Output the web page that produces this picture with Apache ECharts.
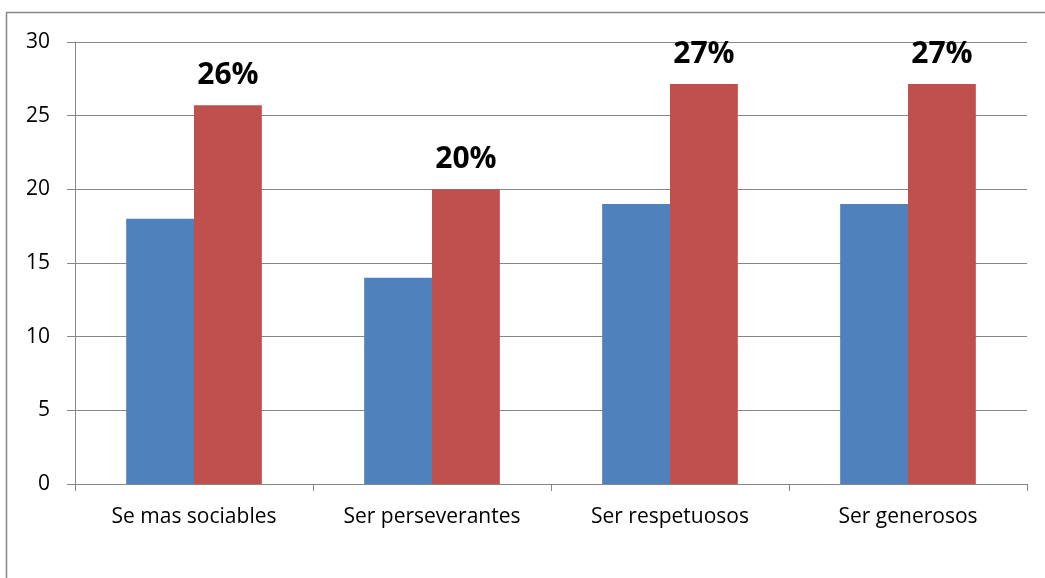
<!DOCTYPE html>
<html>
<head>
<meta charset="utf-8">
<script src="https://cdn.jsdelivr.net/npm/echarts@6/dist/echarts.min.js"></script>
<style>
  html, body { margin: 0; padding: 0; background: #fff; }
  #chart { width: 1045px; height: 578px; }
</style>
</head>
<body>
<div id="chart"></div>
<script>
const categories = ["Se mas sociables", "Ser perseverantes", "Ser respetuosos", "Ser generosos"];
const blueValues = [18, 14, 19, 19];
const redValues = [25.7, 20, 27.15, 27.15];
const redLabels = ["26%", "20%", "27%", "27%"];

let myChart = echarts.init(document.getElementById("chart"));
let option;

const font = "Open Sans, Noto Sans, sans-serif";

option = {
  animation: false,
  graphic: [
    {
      type: "rect",
      shape: { x: 6.5, y: 12.5, width: 1060, height: 600 },
      style: { fill: "none", stroke: "#888888", lineWidth: 1.5 },
      silent: true
    }
  ],
  grid: {
    left: 75,
    right: 18,
    top: 42,
    bottom: 94
  },
  xAxis: {
    type: "category",
    data: categories,
    axisLine: { lineStyle: { color: "#868686", width: 1 } },
    axisTick: { show: true, length: 7, lineStyle: { color: "#868686" } },
    axisLabel: { color: "#000", fontSize: 21, fontFamily: font, margin: 23 }
  },
  yAxis: {
    type: "value",
    min: 0,
    max: 30,
    interval: 5,
    axisLine: { show: true, lineStyle: { color: "#868686", width: 1 } },
    axisTick: { show: true, length: 8, lineStyle: { color: "#868686" } },
    axisLabel: { color: "#000", fontSize: 21, fontFamily: font, margin: 25 },
    splitLine: { lineStyle: { color: "#868686", width: 1 } }
  },
  series: [
    {
      name: "A",
      type: "bar",
      data: blueValues,
      barGap: "0%",
      barCategoryGap: "43%",
      itemStyle: { color: "#4F81BD" }
    },
    {
      name: "B",
      type: "bar",
      data: redValues,
      itemStyle: { color: "#C0504D" },
      label: {
        show: true,
        position: "top",
        distance: 15,
        color: "#000",
        fontSize: 30,
        fontWeight: "bold",
        fontFamily: font,
        formatter: p => redLabels[p.dataIndex]
      }
    }
  ]
};

option && myChart.setOption(option);
</script>
</body>
</html>
